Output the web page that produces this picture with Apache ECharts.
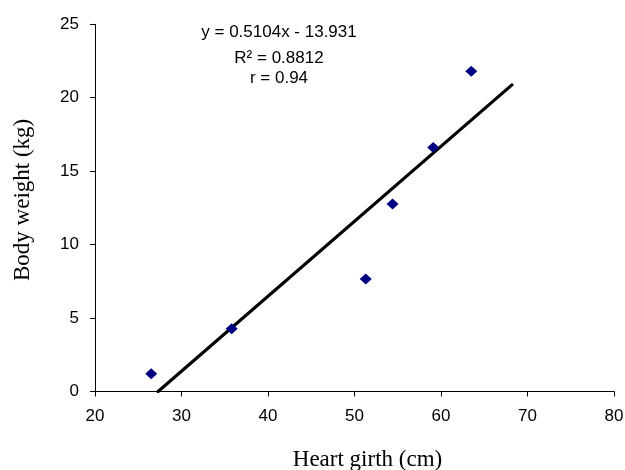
<!DOCTYPE html>
<html><head><meta charset="utf-8">
<script src="https://cdn.jsdelivr.net/npm/echarts@6/dist/echarts.min.js"></script>
<style>html,body{margin:0;padding:0;background:#fff}#c{width:625px;height:470px}</style>
</head><body><div id="c"></div>
<script>
const girth = [26.5, 35.8, 51.3, 54.4, 59.1, 63.5];
const weight = [1.21, 4.27, 7.66, 12.76, 16.61, 21.8];
const slope = 0.5104, intercept = -13.931;
const trendRange = [27.29, 68.2];
const xTicks = {min: 20, max: 80, step: 10};
const yTicks = {min: 0, max: 25, step: 5};
const eqLines = ['y = 0.5104x - 13.931', 'R² = 0.8812', 'r = 0.94'];

const pts = girth.map((x, i) => [x, weight[i]]);
const trend = trendRange.map(x => [x, slope * x + intercept]);

const chart = echarts.init(document.getElementById('c'), null, {renderer: 'canvas'});
const eqY = [32, 58, 78];
chart.setOption({
  animation: false,
  backgroundColor: '#fff',
  grid: {left: 95, right: 11, top: 24.3, bottom: 78.5, containLabel: false, outerBoundsMode: 'none'},
  xAxis: {
    type: 'value', min: xTicks.min, max: xTicks.max, interval: xTicks.step,
    name: 'Heart girth (cm)', nameLocation: 'middle', nameGap: 57,
    nameTextStyle: {fontFamily: 'Liberation Serif', fontSize: 23, color: '#000', padding: [0, 0, 0, 26]},
    axisLine: {lineStyle: {color: '#000', width: 1}},
    axisTick: {show: true, length: 5, lineStyle: {color: '#000'}},
    axisLabel: {fontFamily: 'Liberation Sans', fontSize: 17, color: '#000', margin: 16},
    splitLine: {show: false}
  },
  yAxis: {
    type: 'value', min: yTicks.min, max: yTicks.max, interval: yTicks.step,
    name: 'Body weight (kg)', nameLocation: 'middle', nameGap: 61,
    nameTextStyle: {fontFamily: 'Liberation Serif', fontSize: 23, color: '#000', padding: [0, 0, 0, 16]},
    axisLine: {show: true, lineStyle: {color: '#000', width: 1}},
    axisTick: {show: true, length: 5, lineStyle: {color: '#000'}},
    axisLabel: {fontFamily: 'Liberation Sans', fontSize: 17, color: '#000', margin: 16},
    splitLine: {show: false}
  },
  series: [
    {type: 'line', data: trend, symbol: 'none', lineStyle: {color: '#000', width: 3.2, cap: 'round'}, z: 2},
    {type: 'scatter', data: pts, symbol: 'diamond', symbolSize: [12, 11], itemStyle: {color: '#000080', opacity: 1}, z: 3}
  ],
  graphic: eqLines.map((t, i) => ({
    type: 'text', x: 279, y: eqY[i],
    style: {text: t, fontFamily: 'Liberation Sans', fontSize: 17, fill: '#000', align: 'center', verticalAlign: 'middle'}
  }))
});
</script></body></html>
